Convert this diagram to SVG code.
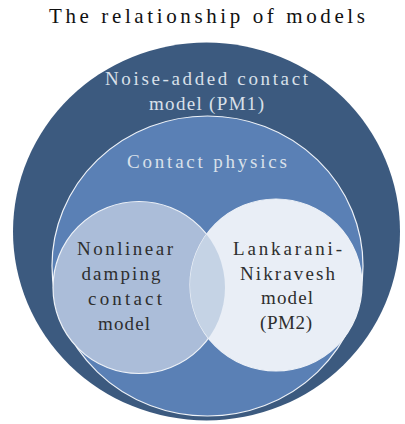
<svg xmlns="http://www.w3.org/2000/svg" width="405" height="424" viewBox="0 0 405 424">
<style>
.t{font-family:"Liberation Serif","DejaVu Serif",serif;text-anchor:middle}
.title{font-size:21px;fill:#111}
.lt{font-size:19px;fill:#d9e0ea}
.dk{font-size:19px;fill:#2e2e2e}
.ring{stroke:#eef2f8;stroke-width:1.2}
</style>
<defs>
<clipPath id="rc"><circle cx="276" cy="285" r="86"/></clipPath>
</defs>
<rect width="405" height="424" fill="#ffffff"/>
<text class="t title" x="207" y="23" textLength="316" lengthAdjust="spacing">The relationship of models</text>
<g id="pm1">
<ellipse cx="206.5" cy="231.5" rx="193.5" ry="189" fill="#3c5a7f"/>
<text class="t lt" x="206.5" y="85" textLength="203" lengthAdjust="spacing">Noise-added contact</text>
<text class="t lt" x="206.5" y="110" textLength="115" lengthAdjust="spacing">model (PM1)</text>
</g>
<g id="contact-physics">
<ellipse cx="207.5" cy="266" rx="155.5" ry="150" fill="#5a80b5" class="ring"/>
<text class="t lt" x="207" y="168" textLength="160" lengthAdjust="spacing">Contact physics</text>
</g>
<g id="nonlinear">
<circle cx="139" cy="287.5" r="86" fill="#abbdd9" class="ring"/>
</g>
<g id="pm2">
<circle cx="276" cy="285" r="86" fill="#e9eef6" class="ring"/>
</g>
<g id="overlap">
<circle cx="139" cy="287.5" r="86" fill="#c5d3e5" clip-path="url(#rc)"/>
</g>
<g id="labels">
<text class="t dk" x="125" y="255" textLength="96" lengthAdjust="spacing">Nonlinear</text>
<text class="t dk" x="121" y="280" textLength="79" lengthAdjust="spacing">damping</text>
<text class="t dk" x="125" y="305" textLength="74" lengthAdjust="spacing">contact</text>
<text class="t dk" x="124" y="330" textLength="52" lengthAdjust="spacing">model</text>
<text class="t dk" x="287.5" y="255" textLength="109" lengthAdjust="spacing">Lankarani-</text>
<text class="t dk" x="287.5" y="280" textLength="95" lengthAdjust="spacing">Nikravesh</text>
<text class="t dk" x="287" y="304" textLength="52" lengthAdjust="spacing">model</text>
<text class="t dk" x="286" y="329" textLength="52" lengthAdjust="spacing">(PM2)</text>
</g>
</svg>
